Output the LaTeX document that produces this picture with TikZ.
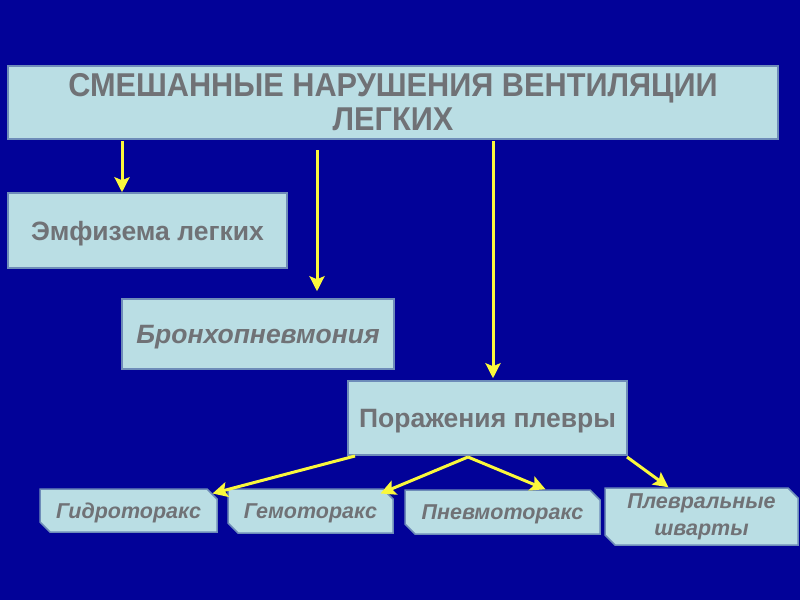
\documentclass[tikz,border=0pt]{standalone}
\usepackage{fontspec}
\setmainfont{Liberation Sans}
\newfontfamily\titlefont[FakeStretch=0.93]{Liberation Sans}
\usetikzlibrary{arrows.meta,shapes.misc}
\definecolor{bg}{RGB}{2,2,152}
\definecolor{boxfill}{RGB}{186,222,228}
\definecolor{boxline}{RGB}{110,140,185}
\definecolor{txt}{RGB}{112,114,118}
\definecolor{arr}{RGB}{250,248,60}
\begin{document}
\begin{tikzpicture}[x=1pt,y=-1pt,
  box/.style={draw=boxline, line width=1.5pt, fill=boxfill, rectangle, inner sep=0pt,
    text=txt, font=\bfseries\fontsize{26.5}{30}\selectfont, align=center},
  onel/.style={text depth=0pt},
  snip/.style={box, chamfered rectangle, chamfered rectangle corners={north east,south west},
    chamfered rectangle xsep=5pt, chamfered rectangle ysep=5pt,
    font=\bfseries\itshape\fontsize{21.5}{27}\selectfont},
  link/.style={draw=arr, line width=3pt, -{Stealth[length=15pt,width=15pt,inset=3pt]}}
]
\fill[bg] (0,0) rectangle (800,600);
\useasboundingbox (0,0) rectangle (800,600);

\node[box, minimum width=770pt, minimum height=73pt, font=\titlefont\bfseries\fontsize{33}{34}\selectfont] (top) at (393,102.5)
  {СМЕШАННЫЕ НАРУШЕНИЯ ВЕНТИЛЯЦИИ\\ЛЕГКИХ};
\node[box, onel, minimum width=279pt, minimum height=75pt] (emf) at (147.5,230.5) {Эмфизема легких};
\node[box, onel, minimum width=272pt, minimum height=70pt, font=\bfseries\itshape\fontsize{26.5}{30}\selectfont] (bron) at (258,334) {Бронхопневмония};
\node[box, onel, minimum width=279pt, minimum height=74pt] (pleura) at (487.5,418) {Поражения плевры};

\node[snip, onel, minimum width=177pt, minimum height=43pt] (hydro) at (128.5,510.5) {Гидроторакс};
\node[snip, onel, minimum width=165pt, minimum height=44pt] (hemo) at (310.5,511) {Гемоторакс};
\node[snip, onel, minimum width=195pt, minimum height=44pt] (pneumo) at (502.5,512) {Пневмоторакс};
\node[snip, minimum width=193pt, minimum height=57pt] (schw) at (701.5,516.5) {Плевральные\\шварты};

\coordinate (a1s) at (122,141);
\coordinate (a2s) at (317,150);
\coordinate (a3s) at (493,141);
\draw[link] (a1s) -- (a1s |- emf.north);
\draw[link] (a2s) -- ([yshift=7pt]a2s |- bron.north);
\draw[link] (a3s) -- ([yshift=2pt]a3s |- pleura.north);

\coordinate (p1) at (355,456);
\coordinate (p2) at (468,457);
\coordinate (p3) at (627,457);
\draw[link] (p1) -- (hydro.north east);
\draw[link] (p2) -- ([xshift=-8pt]hemo.north east);
\draw[link] (p2) -- ([xshift=43pt]pneumo.north);
\draw[link] (p3) -- ([xshift=-33pt]schw.north);
\end{tikzpicture}
\end{document}
